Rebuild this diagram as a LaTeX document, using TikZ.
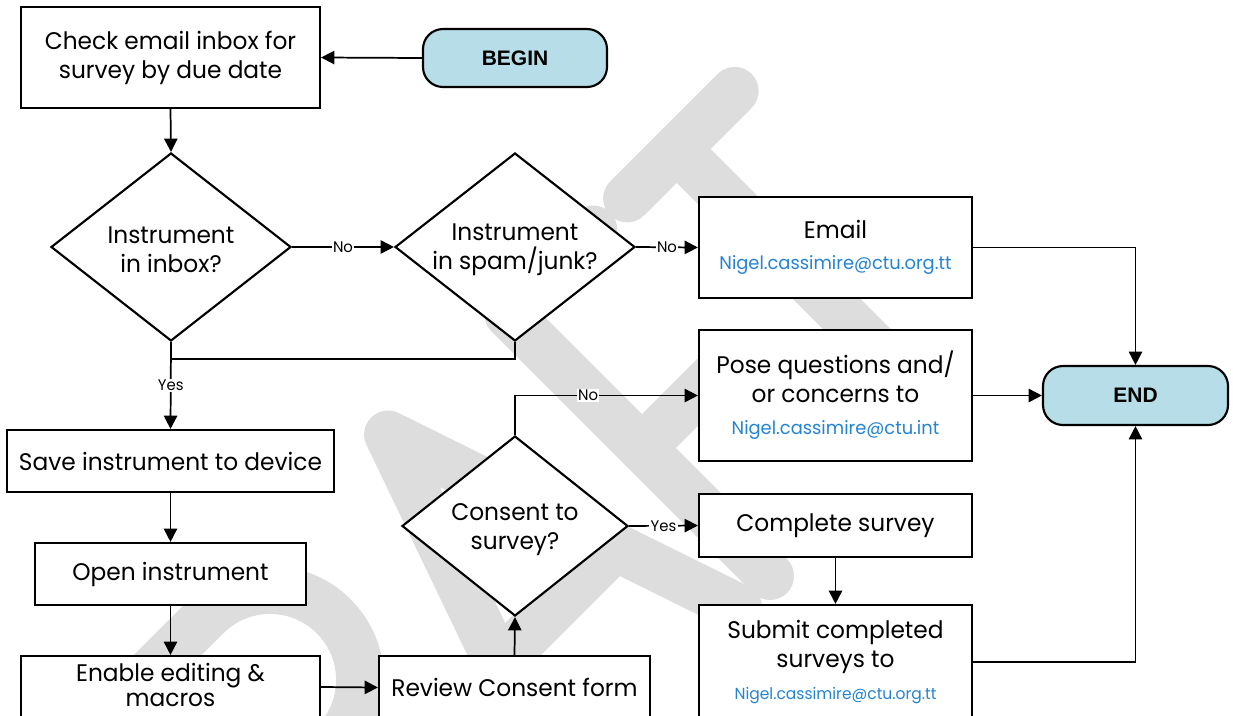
\documentclass[tikz,border=0pt]{standalone}
\usepackage{fontspec}
\setmainfont{Poppins}[FakeStretch=0.97]
\newfontfamily\termfont{Liberation Sans}
\usetikzlibrary{shapes.geometric,arrows.meta}
\definecolor{wm}{RGB}{221,221,221}
\definecolor{termfill}{RGB}{183,222,232}
\definecolor{mail}{RGB}{36,132,212}
\newcommand{\mainsz}{\fontsize{18pt}{21.75pt}\selectfont}
\newcommand{\mailsz}{\fontsize{13.8pt}{17pt}\selectfont\color{mail}}
\newcommand{\mailsmall}{\fontsize{12pt}{15pt}\selectfont\color{mail}}
\newcommand{\lblsz}{\fontsize{11.5pt}{13pt}\selectfont}
\begin{document}
\begin{tikzpicture}[x=0.75pt,y=0.75pt,
  box/.style={draw,line width=1.6pt,fill=white,rectangle,inner sep=0pt,align=center,font=\mainsz},
  dia/.style={draw,line width=1.6pt,fill=white,diamond,inner sep=0pt},
  dtext/.style={align=center,font=\mainsz,inner sep=0pt,yshift=-2pt},
  term/.style={draw,line width=1.6pt,fill=termfill,rectangle,rounded corners=15pt,inner sep=0pt,font=\termfont\bfseries\fontsize{15.75pt}{18pt}\selectfont},
  conn/.style={line width=1.3pt},
  arr/.style={conn,-{Triangle[length=10pt,width=10pt]}},
  lbl/.style={fill=white,inner sep=1pt,font=\lblsz}
]
\useasboundingbox (0,0) rectangle (1233,-715);
\clip (0,0) rectangle (1233,-715);
\fill[white] (0,0) rectangle (1233,-715);

% watermark DRAFT
\begin{scope}[shift={(770,-576)},rotate=45,draw=wm,line width=36pt,line cap=round,line join=round]
  % R
  \draw (-545,0) -- (-545,370) -- (-427,370) arc[start angle=90,end angle=-90,radius=90] -- (-545,190);
  \draw (-450,190) -- (-360,0);
  % A
  \draw (-300,0) -- (-170,370) -- (-45,0);
  \draw (-254,130) -- (-89,130);
  % F
  \draw (0,0) -- (0,370) -- (120,370);
  \draw (0,181) -- (120,181);
  % T
  \draw (166,368) -- (318,368);
  \draw (236,368) -- (236,0);
\end{scope}

% nodes
\node[box,minimum width=224.25pt,minimum height=75.75pt] (check) at (170.5,-57.5) {Check email inbox for\\survey by due date};
\node[term,minimum width=138pt,minimum height=43.5pt] (begin) at (515,-58) {BEGIN};

\node[dia,minimum width=180pt,minimum height=141pt] (d1) at (171,-247) {};
\node[dtext] (d1t) at (d1) {Instrument\\in inbox?};
\node[dia,minimum width=180pt,minimum height=141pt] (d2) at (515,-247) {};
\node[dtext] (d2t) at (d2) {Instrument\\in spam/junk?};

\node[box,minimum width=204.75pt,minimum height=75.75pt] (email) at (835.5,-247.5) {Email\\[2pt]{\mailsz Nigel.cassimire@ctu.org.tt}};

\node[box,minimum width=245.25pt,minimum height=46.5pt] (save) at (170.5,-461) {Save instrument to device};
\node[box,minimum width=203.25pt,minimum height=46.5pt] (open) at (170.5,-574) {Open instrument};
\node[box,minimum width=224.25pt,minimum height=46.5pt] (enable) at (170.5,-687) {};
\node[align=center,font=\mainsz,inner sep=0pt,yshift=1.5pt] (enablet) at (enable) {Enable editing \&\\[-2.5pt]macros};
\node[box,minimum width=203.25pt,minimum height=47.25pt] (review) at (514.5,-687.5) {Review Consent form};

\node[dia,minimum width=169.5pt,minimum height=135pt] (cons) at (515,-526) {};
\node[dtext,yshift=-1pt] (const) at (cons) {Consent to\\survey?};

\node[box,minimum width=204.75pt,minimum height=98.25pt] (pose) at (835.5,-395.5) {Pose questions and/\\or concerns to\\[2pt]{\mailsz Nigel.cassimire@ctu.int}};
\node[box,minimum width=204.75pt,minimum height=47.25pt] (complete) at (835.5,-525.5) {Complete survey};
\node[box,minimum width=204.75pt,minimum height=85.5pt] (submit) at (835.5,-662) {Submit completed\\surveys to\\[2pt]{\mailsmall Nigel.cassimire@ctu.org.tt}};

\node[term,minimum width=138.75pt,minimum height=44.25pt] (end) at (1135.5,-395.5) {END};

\coordinate (join) at (171,-359);

% connectors
\draw[arr] (begin.west) -- (check.east);
\draw[arr] (check.south) -- (d1.north);
\draw[arr] (d1.east) -- node[lbl]{No} (d2.west);
\draw[arr] (d2.east) -- node[lbl]{No} (email.west);
\draw[conn] (d2.south) |- (join);
\draw[arr] (d1.south) -- node[lbl]{Yes} (save.north);
\draw[arr] (save.south) -- (open.north);
\draw[arr] (open.south) -- (enable.north);
\draw[arr] (enable.east) -- (review.west);
\draw[arr] (review.north) -- (cons.south);
\draw[arr] (cons.north) |- node[lbl,pos=0.7]{No} (pose.west);
\draw[arr] (cons.east) -- node[lbl]{Yes} (complete.west);
\draw[arr] (complete.south) -- (submit.north);
\draw[arr] (email.east) -| (end.north);
\draw[arr] (pose.east) -- (end.west);
\draw[arr] (submit.east) -| (end.south);
\end{tikzpicture}
\end{document}
